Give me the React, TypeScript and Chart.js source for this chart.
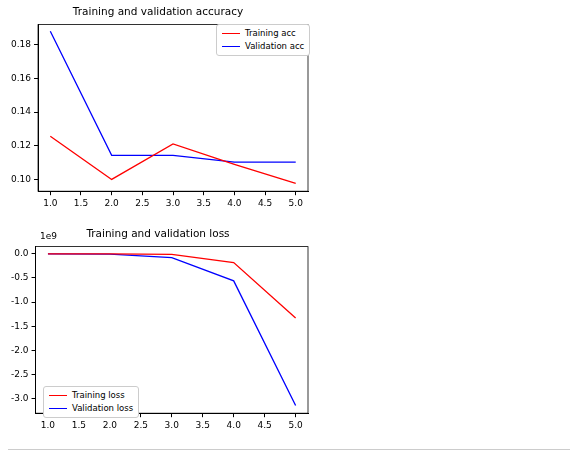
import { useEffect, useRef } from "react"
import { Chart, registerables } from "chart.js"

Chart.register(...registerables)

const epochs = [1, 2, 3, 4, 5]
const trainAcc = [0.1257, 0.1, 0.1211, 0.109, 0.0977]
const valAcc = [0.188, 0.1143, 0.1143, 0.1103, 0.1103]
const trainLoss = [0, 0, -0.01, -0.18, -1.33] // x1e9
const valLoss = [0, -0.005, -0.08, -0.56, -3.14] // x1e9
const accTicks = [0.1, 0.12, 0.14, 0.16, 0.18]
const lossTicks = [-3.0, -2.5, -2.0, -1.5, -1.0, -0.5, 0.0]
const xTicks = [1, 1.5, 2, 2.5, 3, 3.5, 4, 4.5, 5]

const font = { family: "DejaVu Sans", size: 9 }

const framePlugin = {
  id: "frame",
  afterDraw(chart: Chart) {
    const { ctx, chartArea: a } = chart
    ctx.save()
    ctx.strokeStyle = "#000"
    ctx.lineWidth = 0.8
    ctx.strokeRect(a.left, a.top, a.right - a.left, a.bottom - a.top)
    ctx.restore()
  },
}

function Panel(props: {
  title: string
  series: { label: string; data: number[]; color: string }[]
  ticks: number[]
  min: number
  max: number
  decimals: number
}) {
  const ref = useRef<HTMLCanvasElement>(null)
  useEffect(() => {
    if (!ref.current) return
    const chart = new Chart(ref.current, {
      type: "line",
      data: {
        datasets: props.series.map((s) => ({
          label: s.label,
          data: epochs.map((e, i) => ({ x: e, y: s.data[i] })),
          borderColor: s.color,
          borderWidth: 1.3,
          pointRadius: 0,
          tension: 0,
        })),
      },
      options: {
        animation: false,
        responsive: false,
        layout: { padding: { right: 4, left: 8 } },
        plugins: {
          legend: { display: false },
          tooltip: { enabled: false },
          title: {
            display: true,
            text: props.title,
            font: { family: "DejaVu Sans", size: 10.5, weight: "normal" },
            color: "#000",
            padding: { top: 6, bottom: 6 },
          },
        },
        scales: {
          x: {
            type: "linear",
            min: 0.8,
            max: 5.2,
            afterBuildTicks: (s: any) => { s.ticks = xTicks.map((v) => ({ value: v })) },
            ticks: { font, color: "#000", callback: (v: any) => Number(v).toFixed(1), maxRotation: 0 },
            grid: { drawOnChartArea: false, tickLength: 4, color: "#000" },
            border: { color: "#000" },
          },
          y: {
            min: props.min,
            max: props.max,
            afterBuildTicks: (s: any) => { s.ticks = props.ticks.map((v) => ({ value: v })) },
            ticks: { font, color: "#000", callback: (v: any) => Number(v).toFixed(props.decimals) },
            grid: { drawOnChartArea: false, tickLength: 4, color: "#000" },
            border: { color: "#000" },
          },
        },
      },
      plugins: [framePlugin],
    })
    return () => chart.destroy()
  }, [])
  return <canvas ref={ref} width={312} height={212} />
}

function Legend(props: { items: { label: string; color: string }[]; style: any }) {
  return (
    <div style={{ position: "absolute", border: "1px solid #ccc", borderRadius: 3, background: "#fff", padding: "2px 5px", fontFamily: "DejaVu Sans", fontSize: 8.5, lineHeight: "13px", ...props.style }}>
      {props.items.map((it) => (
        <div key={it.label} style={{ display: "flex", alignItems: "center" }}>
          <span style={{ display: "inline-block", width: 18, height: 1.5, background: it.color, marginRight: 5 }} />
          {it.label}
        </div>
      ))}
    </div>
  )
}

export default function App() {
  return (
    <div style={{ position: "fixed", left: 0, top: 0, width: 572, height: 451, background: "#fff" }}>
      <div style={{ position: "absolute", left: 0, top: 0 }}>
        <Panel title="Training and validation accuracy" min={0.093} max={0.192} ticks={accTicks} decimals={2}
          series={[{ label: "Training acc", data: trainAcc, color: "red" }, { label: "Validation acc", data: valAcc, color: "blue" }]} />
      </div>
      <Legend style={{ left: 216, top: 24 }} items={[{ label: "Training acc", color: "red" }, { label: "Validation acc", color: "blue" }]} />
      <div style={{ position: "absolute", left: 0, top: 222 }}>
        <Panel title="Training and validation loss" min={-3.3} max={0.15} ticks={lossTicks} decimals={1}
          series={[{ label: "Training loss", data: trainLoss, color: "red" }, { label: "Validation loss", data: valLoss, color: "blue" }]} />
      </div>
      <div style={{ position: "absolute", left: 40, top: 231, fontFamily: "DejaVu Sans", fontSize: 9 }}>1e9</div>
      <Legend style={{ left: 43, top: 386 }} items={[{ label: "Training loss", color: "red" }, { label: "Validation loss", color: "blue" }]} />
      <div style={{ position: "absolute", left: 8, top: 449, width: 562, borderTop: "1px solid #ccc" }} />
    </div>
  )
}
